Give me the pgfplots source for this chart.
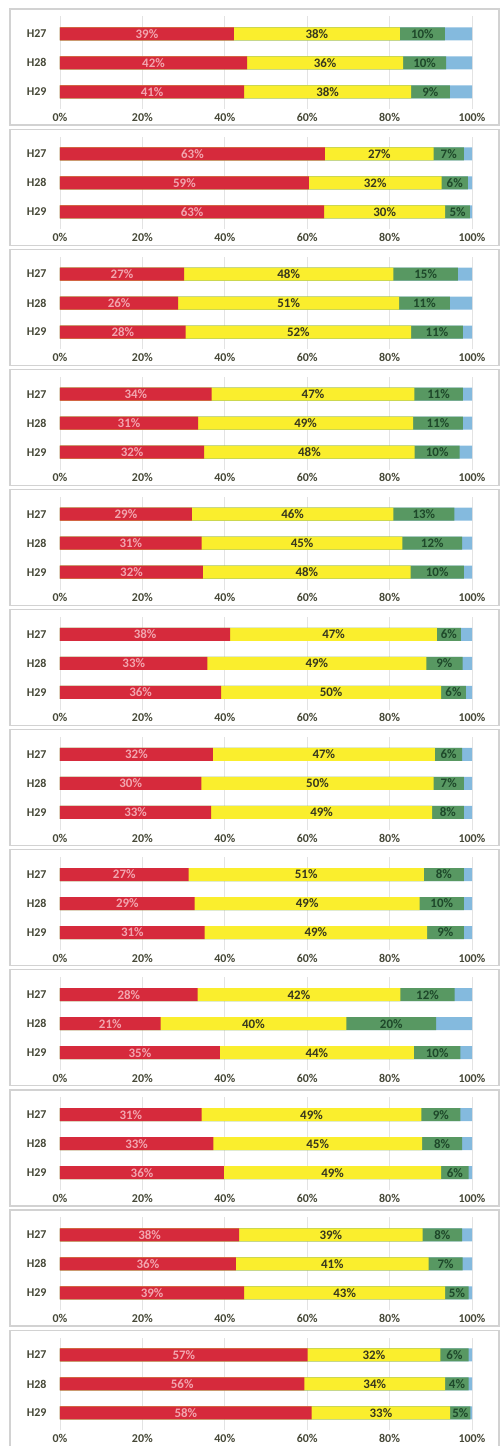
\documentclass[border=0pt]{standalone}
\usepackage{pgfplots}
\usepackage{pgfplotstable}
\pgfplotsset{compat=1.18}
\usepackage{fontspec}
\setmainfont{Carlito}
\definecolor{cred}{RGB}{214,42,60}
\definecolor{cyellow}{RGB}{250,238,45}
\definecolor{cgreen}{RGB}{88,152,98}
\definecolor{cblue}{RGB}{132,186,222}
\definecolor{tred}{RGB}{242,165,175}
\definecolor{tyel}{RGB}{55,55,30}
\definecolor{tgreen}{RGB}{30,72,42}
\definecolor{ttick}{RGB}{70,72,55}

% columns: y, red end, yellow end, green end (bar positions in %), printed labels
\pgfplotstableread{
y r ye ge rl yl gl
2 42.2 82.5 93.4 39 38 10
1 45.4 83.3 93.7 42 36 10
0 44.7 85.2 94.6 41 38 9
}\pA
\pgfplotstableread{
y r ye ge rl yl gl
2 64.3 90.7 98.0 63 27 7
1 60.4 92.6 99.0 59 32 6
0 64.1 93.5 99.5 63 30 5
}\pB
\pgfplotstableread{
y r ye ge rl yl gl
2 30.1 80.9 96.6 27 48 15
1 28.7 82.3 94.6 26 51 11
0 30.5 85.2 97.8 28 52 11
}\pC
\pgfplotstableread{
y r ye ge rl yl gl
2 36.8 86.0 97.8 34 47 11
1 33.5 85.7 97.8 31 49 11
0 35.0 86.1 97.0 32 48 10
}\pD
\pgfplotstableread{
y r ye ge rl yl gl
2 32.0 80.9 95.7 29 46 13
1 34.4 83.1 97.6 31 45 12
0 34.7 85.1 98.0 32 48 10
}\pE
\pgfplotstableread{
y r ye ge rl yl gl
2 41.3 91.5 97.3 38 47 6
1 35.8 88.9 97.7 33 49 9
0 39.1 92.5 98.5 36 50 6
}\pF
\pgfplotstableread{
y r ye ge rl yl gl
2 37.1 91.0 97.6 32 47 6
1 34.3 90.7 98.0 30 50 7
0 36.7 90.3 98.0 33 49 8
}\pG
\pgfplotstableread{
y r ye ge rl yl gl
2 31.2 88.3 98.0 27 51 8
1 32.7 87.3 98.0 29 49 10
0 35.1 89.1 98.0 31 49 9
}\pH
\pgfplotstableread{
y r ye ge rl yl gl
2 33.4 82.6 95.8 28 42 12
1 24.4 69.5 91.3 21 40 20
0 38.8 85.9 97.2 35 44 10
}\pI
\pgfplotstableread{
y r ye ge rl yl gl
2 34.4 87.7 97.2 31 49 9
1 37.2 87.9 97.6 33 45 8
0 39.8 92.5 99.2 36 49 6
}\pJ
\pgfplotstableread{
y r ye ge rl yl gl
2 43.5 88.0 97.6 38 39 8
1 42.7 89.5 97.7 36 41 7
0 44.7 93.5 99.2 39 43 5
}\pK
\pgfplotstableread{
y r ye ge rl yl gl
2 60.1 92.3 99.2 57 32 6
1 59.3 93.5 99.2 56 34 4
0 61.1 94.7 99.6 58 33 5
}\pL

\pgfplotsset{
  panel/.style={
    scale only axis, width=412bp, height=92.8bp,
    anchor=north west,
    xmin=0, xmax=100, ymin=-0.6, ymax=2.6,
    axis line style={draw=none},
    tick style={draw=none},
    /pgf/number format/assume math mode=true,
    xtick={0,20,...,100},
    xticklabel={\pgfmathprintnumber{\tick}\%},
    xticklabel style={font=\fontsize{12}{12}\selectfont\bfseries, text=ttick, yshift=-0.5bp},
    ytick={0,1,2}, yticklabels={H29,H28,H27},
    yticklabel style={font=\fontsize{12}{12}\selectfont\bfseries, text=ttick, xshift=-10bp},
    xmajorgrids, grid style={gray!22, line width=0.8bp},
    bar width=13bp,
    clip=false,
  },
  seg/.style={xbar, bar shift=0pt, draw=none, fill=#1, forget plot},
  lab/.style={draw=none, mark=none, forget plot,
    nodes near coords={\pgfplotspointmeta\%}, point meta=explicit symbolic,
    every node near coord/.style={anchor=center, inner sep=0pt,
      font=\fontsize{13}{13}\selectfont\bfseries, text=#1}},
}

\newcommand{\panel}[2]{%
\begin{axis}[panel, at={(60bp,-#2bp)}]
\addplot[seg=cblue] table[x expr=100, y=y]{#1};
\addplot[seg=cgreen] table[x=ge, y=y]{#1};
\addplot[seg=cyellow] table[x=ye, y=y]{#1};
\addplot[seg=cred] table[x=r, y=y]{#1};
\addplot[lab=tred] table[x expr=\thisrow{r}/2, y=y, meta=rl]{#1};
\addplot[lab=tyel] table[x expr=(\thisrow{r}+\thisrow{ye})/2, y=y, meta=yl]{#1};
\addplot[lab=tgreen] table[x expr=(\thisrow{ye}+\thisrow{ge})/2, y=y, meta=gl]{#1};
\end{axis}}

\begin{document}
\begin{tikzpicture}
\useasboundingbox (0,0) rectangle (502bp,-1446bp);
\foreach \t in {9,129.1,249.2,369.3,489.4,609.5,729.6,849.7,969.8,1089.9,1210.0,1330.1}
  \draw[gray!35, line width=1.2bp] (10bp,{-\t*1bp}) rectangle (499bp,{-(\t+116)*1bp});
\panel{\pA}{16.4}
\panel{\pB}{136.5}
\panel{\pC}{256.6}
\panel{\pD}{376.7}
\panel{\pE}{496.8}
\panel{\pF}{616.9}
\panel{\pG}{737.0}
\panel{\pH}{857.1}
\panel{\pI}{977.2}
\panel{\pJ}{1097.3}
\panel{\pK}{1217.4}
\panel{\pL}{1337.5}
\end{tikzpicture}
\end{document}
